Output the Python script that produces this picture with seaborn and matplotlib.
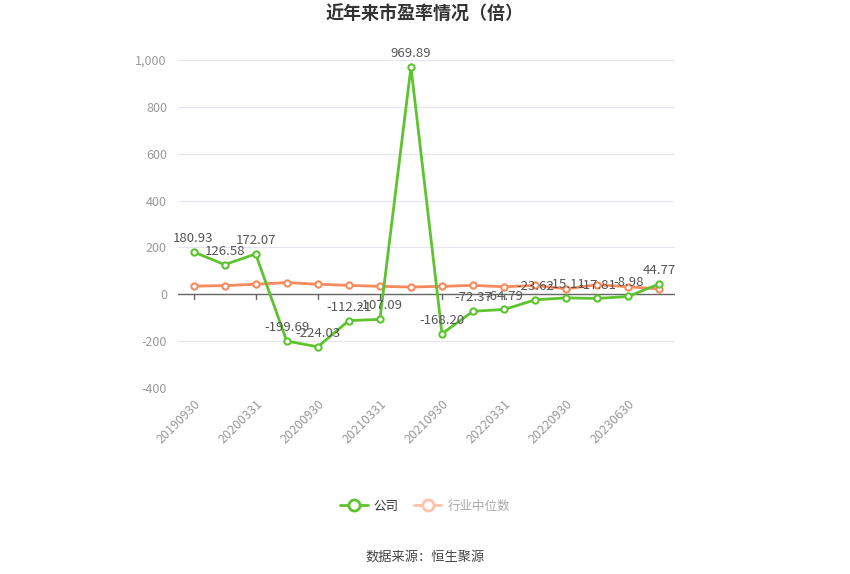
import matplotlib
matplotlib.use("Agg")
import matplotlib.pyplot as plt
import seaborn as sns
import pandas as pd
from matplotlib.lines import Line2D

# datos
fechas = ["20190930", "20191231", "20200331", "20200630", "20200930", "20201231",
          "20210331", "20210630", "20210930", "20211231", "20220331", "20220630",
          "20220930", "20221231", "20230630", "20230930"]
empresa = [180.93, 126.58, 172.07, -199.69, -224.03, -112.21, -107.09, 969.89,
           -168.20, -72.37, -64.79, -23.62, -15.11, -17.81, -8.98, 44.77]
mediana = [35, 37, 43, 50, 43, 38, 34, 31, 34, 38, 32, 38, 23, 41, 32, 23]
etiquetas_x = fechas[::2]

sns.set_theme(style="white")
plt.rcParams['font.family'] = ['Noto Sans CJK SC', 'DejaVu Sans']

verde = "#5dc42f"
naranja = "#f98a5c"

df = pd.DataFrame({"idx": range(len(fechas)), "fecha": fechas,
                   "empresa": empresa, "mediana": mediana})

fig = plt.figure(figsize=(8.5, 5.74), dpi=100)
ax = fig.add_axes([0.2094, 0.324, 0.5847, 0.5715])

sns.lineplot(data=df, x="idx", y="mediana", ax=ax, color=naranja, linewidth=2,
             marker="o", markersize=4.5, markerfacecolor="white",
             markeredgecolor=naranja, markeredgewidth=1.5, zorder=3)
sns.lineplot(data=df, x="idx", y="empresa", ax=ax, color=verde, linewidth=2,
             marker="o", markersize=4.5, markerfacecolor="white",
             markeredgecolor=verde, markeredgewidth=1.5, zorder=4)

for i, v in enumerate(empresa):
    ax.annotate(f"{v:.2f}", (i, v), xytext=(0, 5), textcoords="offset points",
                ha="center", va="bottom", fontsize=9.5, color="#555555", zorder=5)

ax.set_xlim(-0.5, len(fechas) - 0.5)
ax.set_ylim(-400, 1000)
ax.set_yticks(range(-400, 1001, 200))
ax.set_yticklabels([f"{t:,}" for t in range(-400, 1001, 200)], fontsize=9, color="#999999")
ax.yaxis.grid(True, color="#e3e6f0", linewidth=0.8)
ax.axhline(0, color="#666666", linewidth=1, zorder=2)

ticks_x = list(range(0, len(fechas), 2))
ax.set_xticks(ticks_x)
ax.set_xticklabels(etiquetas_x, rotation=45, ha="right", rotation_mode="anchor",
                   fontsize=9, color="#999999")
ax.tick_params(axis="x", length=0, pad=7)
ax.tick_params(axis="y", length=0, pad=8)
for t in ticks_x:
    ax.plot([t, t], [0, -18], color="#666666", linewidth=1, zorder=2)

for s in ax.spines.values():
    s.set_visible(False)
ax.set_xlabel("")
ax.set_ylabel("")

fig.suptitle("近年来市盈率情况（倍）", x=0.5, y=0.992, fontsize=13,
             fontweight="bold", color="#333333")

handles = [
    Line2D([0], [0], color=verde, linewidth=2, marker="o", markersize=8,
           markerfacecolor="white", markeredgecolor=verde, markeredgewidth=2),
    Line2D([0], [0], color="#ffc2ab", linewidth=2, marker="o", markersize=8,
           markerfacecolor="white", markeredgecolor="#ffc2ab", markeredgewidth=2),
]
leg = fig.legend(handles, ["公司", "行业中位数"], loc="center", bbox_to_anchor=(0.5, 0.118),
                 ncol=2, frameon=False, fontsize=9, handlelength=2.2,
                 columnspacing=1.2, handletextpad=0.5)
leg.get_texts()[0].set_color("#333333")
leg.get_texts()[1].set_color("#aaaaaa")

fig.text(0.5, 0.03, "数据来源：恒生聚源", ha="center", va="center",
         fontsize=9.5, color="#444444")

fig.savefig("out.png", dpi=100)
